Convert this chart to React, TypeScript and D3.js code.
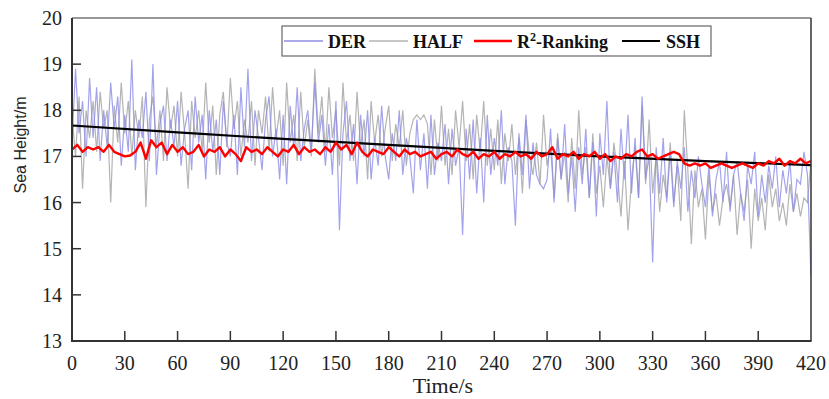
import React from "react";
import * as d3 from "d3";

const NOISY_STEP = 2;
const R2_STEP = 3;
const xTicks = [0, 30, 60, 90, 120, 150, 180, 210, 240, 270, 300, 330, 360, 390, 420];
const yTicks = [13, 14, 15, 16, 17, 18, 19, 20];

const derValues = [
  17.3, 18.9, 17.5, 18.2, 17.0, 18.7, 17.4, 18.5, 16.9, 18.0,
  17.2, 18.6, 17.6, 18.3, 16.8, 17.9, 17.1, 19.1, 16.7, 17.8,
  17.4, 18.4, 16.9, 19.0, 16.6, 17.7, 18.1, 16.9, 17.8, 17.2,
  18.2, 16.8, 17.6, 18.0, 16.7, 18.3, 17.3, 17.9, 16.5, 18.0,
  17.1, 17.8, 16.6, 18.2, 17.3, 17.0, 17.9, 16.6, 18.5, 17.2,
  18.9, 16.9, 18.0, 17.4, 16.7, 17.8, 18.3, 17.0, 17.6, 16.5,
  17.9, 16.4, 18.1, 17.2, 18.5, 16.9, 17.6, 18.0, 17.1, 18.6,
  17.3, 17.9, 16.8, 17.7, 16.6, 18.2, 15.4, 17.5, 18.2, 16.9,
  17.7, 16.4, 17.9, 17.0, 18.0, 16.5, 17.4, 16.8, 18.1, 17.0,
  16.5, 17.5, 16.9, 18.0, 16.6, 17.4, 17.0, 16.2, 17.8, 16.7,
  17.5, 16.3, 17.9, 16.6, 17.3, 16.9, 17.7, 16.4, 17.6, 16.8,
  17.2, 15.3, 17.6, 16.5, 17.8, 16.2, 17.4, 16.0, 17.9, 16.6,
  17.4, 16.8, 18.0, 16.4, 17.2, 16.9, 15.5, 17.5, 16.6, 17.9,
  16.3, 17.3, 16.6, 16.4, 16.3, 16.5, 17.6, 16.0, 17.4, 16.5,
  17.7, 16.2, 17.0, 15.8, 17.2, 16.4, 17.6, 16.1, 17.3, 15.7,
  17.5, 16.6, 18.2, 16.3, 17.1, 16.0, 17.6, 16.5, 17.9, 16.2,
  17.4, 16.1, 18.3, 16.5, 17.0, 14.7, 17.2, 16.2, 17.4, 16.0,
  17.1, 15.9, 16.9, 16.3, 17.2, 15.8, 16.7, 16.1, 17.0, 16.4,
  15.9, 16.8, 15.7, 16.5, 16.9, 16.0, 17.1, 15.8, 16.6, 16.9,
  16.2, 15.6, 16.8, 16.4, 17.1, 15.7, 16.6, 16.0, 16.8, 16.3,
  17.0, 15.9, 16.7, 16.2, 16.9, 15.8, 16.5, 16.4, 17.1, 16.6,
  14.4,
];

const halfValues = [
  17.9, 17.0, 18.3, 16.3, 18.0, 17.4, 18.2, 17.1, 18.4, 17.6,
  18.0, 16.0, 18.1, 17.3, 18.6, 17.5, 18.2, 17.0, 18.0, 17.4,
  18.3, 15.9, 17.8, 18.3, 17.2, 18.0, 16.9, 18.5, 17.6, 18.1,
  17.0, 18.4, 17.5, 16.3, 18.2, 17.4, 18.0, 17.1, 18.6, 17.3,
  18.1, 16.6, 17.9, 18.4, 17.2, 18.7, 17.6, 18.2, 17.0, 17.8,
  17.3, 18.2, 16.8, 18.0, 17.5, 18.3, 17.1, 18.5, 17.4, 18.0,
  16.8, 18.6, 17.3, 17.9, 16.9, 18.4, 17.2, 17.8, 17.0, 18.9,
  17.5, 18.3, 17.1, 18.5, 17.4, 18.0, 16.8, 18.6, 17.3, 17.9,
  16.9, 18.4, 17.2, 17.8, 16.5, 18.2, 17.3, 17.9, 17.0, 17.6,
  18.1, 16.9, 17.7, 17.2, 18.0, 16.8, 17.5, 17.8, 17.9, 17.8,
  17.9, 17.7, 16.6, 17.8, 16.9, 18.1, 16.8, 17.6, 16.6, 18.0,
  17.2, 18.2, 16.9, 17.7, 16.5, 17.9, 17.1, 18.2, 16.8, 17.6,
  16.7, 17.8, 16.4, 17.5, 16.9, 17.7, 16.6, 17.4, 16.2, 17.8,
  17.0, 16.6, 17.3, 16.4, 17.9, 16.8, 17.2, 16.1, 17.5, 16.5,
  17.1, 16.0, 17.4, 16.3, 18.0, 16.6, 17.2, 16.1, 17.5, 16.2,
  16.8, 15.9, 17.0, 16.3, 17.3, 16.6, 15.7, 16.9, 15.4, 16.5,
  17.2, 16.1, 18.1, 16.4, 17.8, 16.2, 17.0, 15.8, 16.6, 16.1,
  17.3, 16.0, 16.8, 15.6, 18.0, 16.7, 15.1, 16.7, 15.9, 16.3,
  15.2, 16.6, 15.8, 16.2, 15.5, 16.1, 16.4, 15.9, 16.6, 15.3,
  16.2, 15.8, 16.5, 15.0, 16.3, 15.6, 16.1, 15.4, 16.6, 15.9,
  16.3, 15.6, 16.0, 15.5, 16.4, 15.8, 16.2, 15.7, 16.1, 16.0,
  16.9,
];

const r2Values = [
  17.15, 17.25, 17.1, 17.2, 17.15, 17.2, 17.1, 17.25, 17.1, 17.05,
  17.0, 17.02, 17.1, 17.3, 16.95, 17.35, 17.2, 17.3, 17.05, 17.25,
  17.1, 17.2, 17.05, 17.1, 17.25, 17.0, 17.15, 17.1, 17.2, 17.0,
  17.15, 17.05, 16.9, 17.2, 17.1, 17.15, 17.05, 17.2, 17.1, 17.0,
  17.15, 17.1, 17.25, 17.05, 17.2, 17.1, 17.15, 17.05, 17.2, 17.1,
  17.3, 17.15, 17.25, 17.05, 17.3, 17.1, 17.0, 17.15, 17.1, 17.05,
  17.2, 17.1, 17.0, 17.15, 17.05, 17.1, 17.0, 17.05, 17.1, 16.95,
  17.05, 17.1, 17.0, 17.15, 17.05, 17.0, 17.1, 16.95, 17.05, 17.0,
  17.1, 16.95, 17.05, 17.0, 17.1, 17.0, 17.05, 16.95, 17.1, 17.0,
  17.05, 17.2, 16.95, 17.05, 17.0, 17.1, 16.95, 17.05, 17.0, 17.1,
  16.95, 17.05, 16.9, 17.0, 16.95, 17.05, 17.0, 17.1, 17.15, 17.0,
  17.05, 16.95, 17.0, 17.05, 17.1, 17.05, 16.85, 16.8, 16.85, 16.8,
  16.85, 16.75, 16.8, 16.85, 16.8, 16.75, 16.8, 16.85, 16.8, 16.75,
  16.85, 16.8, 16.9, 16.85, 16.95, 16.8, 16.9, 16.85, 16.95, 16.85,
  16.9,
];

const sshTimes = [0, 60, 120, 180, 240, 300, 360, 420];
const sshValues = [17.67, 17.52, 17.38, 17.25, 17.12, 17.0, 16.9, 16.81];

const legendLabels = ["DER", "HALF", "SSH"];

export default function App() {
  const W = 829, H = 399;
  const left = 72, right = 811, top = 18, bottom = 341;
  const x = d3.scaleLinear().domain([0, 420]).range([left, right]);
  const y = d3.scaleLinear().domain([13, 20]).range([bottom, top]);

  const line = d3.line<[number, number]>().x(d => x(d[0])).y(d => y(d[1]));
  const toPts = (vals: number[], step: number) => vals.map((v, i) => [i * step, v] as [number, number]);
  const derPath = line(toPts(derValues, NOISY_STEP)) || "";
  const halfPath = line(toPts(halfValues, NOISY_STEP)) || "";
  const r2Path = line(toPts(r2Values, R2_STEP)) || "";
  const sshPath = line(sshTimes.map((t, i) => [t, sshValues[i]] as [number, number])) || "";

  const font = "'Liberation Serif', 'Times New Roman', serif";
  const sans = "'Liberation Sans', Arial, sans-serif";
  const axisColor = "#333";
  const derColor = "#8c8ce6";

  return (
    <svg width={W} height={H} style={{ position: "absolute", left: 0, top: 0, background: "#fff" }}>
      <defs>
        <clipPath id="plot">
          <rect x={left} y={top} width={right - left} height={bottom - top} />
        </clipPath>
      </defs>
      <rect x={0} y={0} width={W} height={H} fill="#fff" />
      <g clipPath="url(#plot)">
        <path d={halfPath} fill="none" stroke="#b4b4b4" strokeWidth={1.2} />
        <path d={derPath} fill="none" stroke={derColor} strokeOpacity={0.8} strokeWidth={1.2} />
        <path d={sshPath} fill="none" stroke="#000" strokeWidth={2.2} />
        <path d={r2Path} fill="none" stroke="#ff0000" strokeWidth={2.4} strokeLinejoin="round" />
      </g>
      <line x1={left} x2={right} y1={top} y2={top} stroke={axisColor} strokeWidth={1.2} />
      <line x1={right} x2={right} y1={top} y2={bottom} stroke={axisColor} strokeWidth={1.5} />
      <line x1={left} x2={left} y1={top} y2={bottom + 1} stroke={axisColor} strokeWidth={2} />
      <line x1={left - 1} x2={right + 0.5} y1={bottom} y2={bottom} stroke={axisColor} strokeWidth={2} />
      {yTicks.map(t => (
        <g key={"y" + t}>
          {t > 13 && t < 20 && (
            <line x1={left} x2={left + 9} y1={y(t)} y2={y(t)} stroke={axisColor} strokeWidth={1.5} />
          )}
          <text x={left - 10} y={y(t)} dy="0.35em" textAnchor="end" fontFamily={font} fontSize={20} fill="#222">
            {t}
          </text>
        </g>
      ))}
      {xTicks.map(t => (
        <g key={"x" + t}>
          {t > 0 && t < 420 && (
            <line x1={x(t)} x2={x(t)} y1={bottom} y2={bottom - 10} stroke={axisColor} strokeWidth={1.5} />
          )}
          <text x={x(t)} y={bottom + 29} textAnchor="middle" fontFamily={font} fontSize={20} fill="#222">
            {t}
          </text>
        </g>
      ))}
      <text x={443} y={393} textAnchor="middle" fontFamily={font} fontSize={22} fill="#222">
        Time/s
      </text>
      <text transform={`translate(26, 145) rotate(-90)`} textAnchor="middle" fontFamily={sans} fontSize={16} fill="#222">
        Sea Height/m
      </text>
      <rect x={282} y={26} width={429} height={30} fill="#fff" stroke="#666" strokeWidth={1.2} />
      <line x1={284} x2={323} y1={41} y2={41} stroke={derColor} strokeWidth={1.3} />
      <text x={328} y={48} fontFamily={font} fontWeight="bold" fontSize={18} fill="#111">{legendLabels[0]}</text>
      <line x1={369} x2={408} y1={41} y2={41} stroke="#b4b4b4" strokeWidth={1.3} />
      <text x={413} y={48} fontFamily={font} fontWeight="bold" fontSize={18} fill="#111">{legendLabels[1]}</text>
      <line x1={474} x2={512} y1={41} y2={41} stroke="#ff0000" strokeWidth={2.4} />
      <text x={517} y={48} fontFamily={font} fontWeight="bold" fontSize={18} fill="#111">
        R<tspan fontSize={12} dy={-7}>2</tspan><tspan dy={7}>-Ranking</tspan>
      </text>
      <line x1={622} x2={660} y1={41} y2={41} stroke="#000" strokeWidth={2.2} />
      <text x={666} y={48} fontFamily={font} fontWeight="bold" fontSize={18} fill="#111">{legendLabels[2]}</text>
    </svg>
  );
}
